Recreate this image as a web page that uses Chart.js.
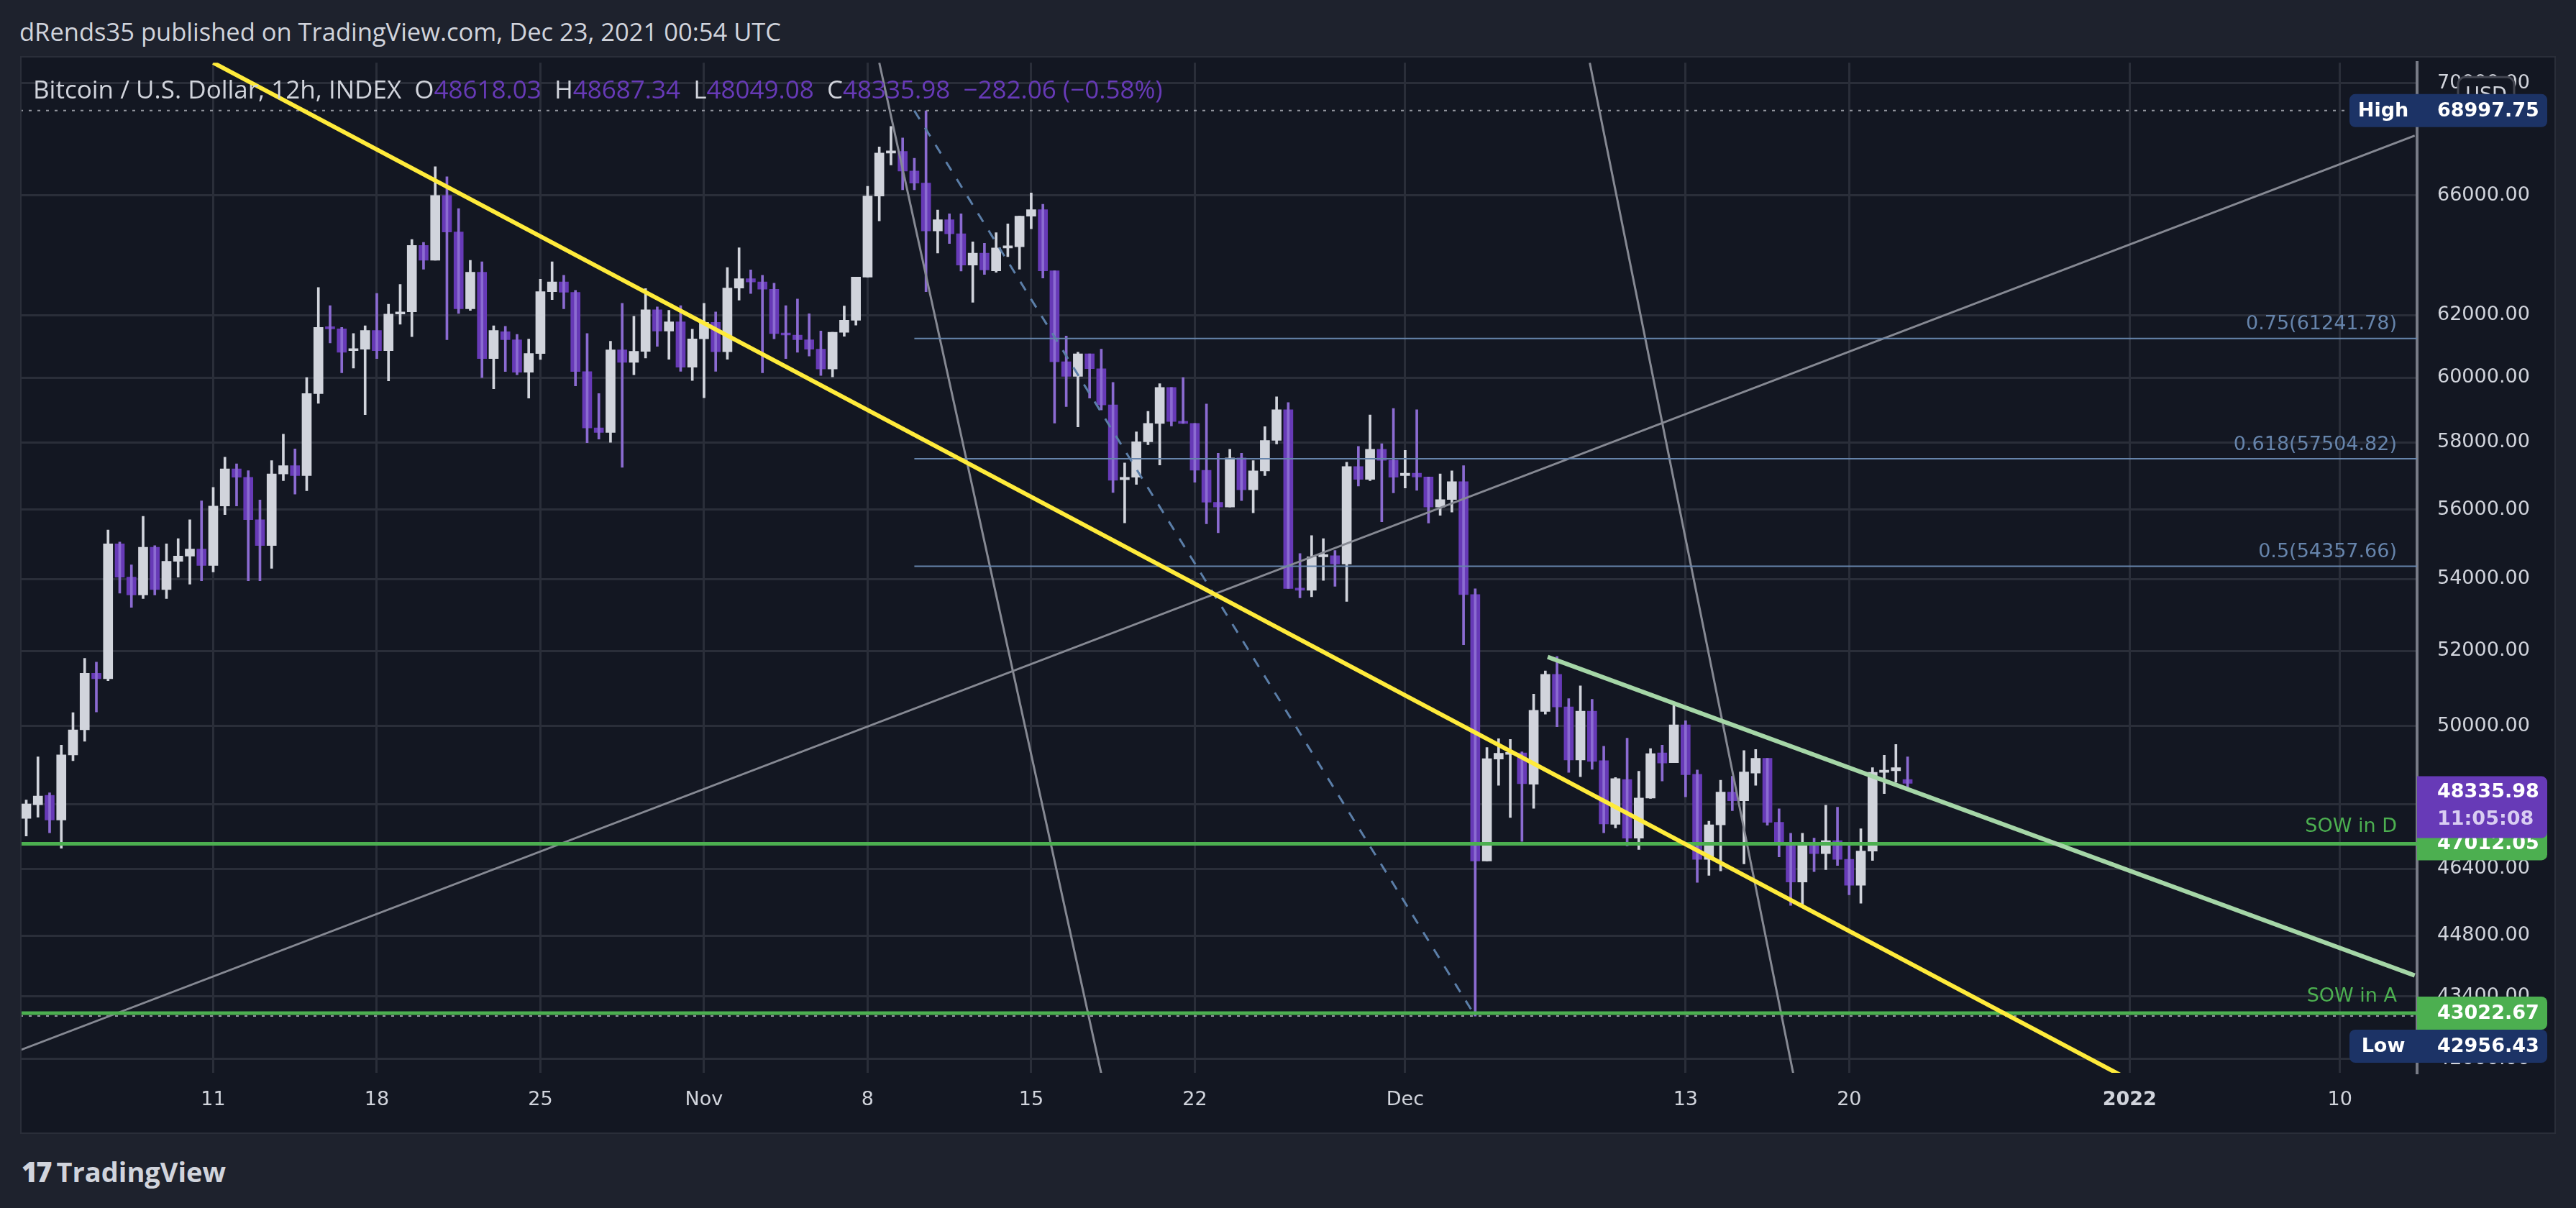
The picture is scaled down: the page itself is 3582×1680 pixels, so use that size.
<!DOCTYPE html>
<html>
<head>
<meta charset="utf-8">
<script src="https://cdn.jsdelivr.net/npm/chart.js@4"></script>
<style>
  html, body { margin: 0; padding: 0; background: #1e222d; width: 3582px; height: 1680px; overflow: hidden; }
  #panel { position: absolute; left: 28px; top: 78px; width: 3526px; height: 1499px; background: #131722; border: 2px solid #2a2e39; box-sizing: border-box; }
  #wrap { position: absolute; left: 30px; top: 43px; width: 3522px; height: 1532px; }
  #title { position: absolute; left: 27px; top: 20px; font: 34.5px 'Liberation Sans Narrow', 'Open Sans', sans-serif; color: #d1d4dc; }
  #legend { position: absolute; left: 46px; top: 100px; font: 35px 'Liberation Sans Narrow', 'Open Sans', sans-serif; color: #d1d4dc; white-space: pre; z-index: 2; }
  #legend span { color: #673ab7; }
  #footer { position: absolute; left: 30px; top: 1603px; font: bold 38px 'Open Sans', sans-serif; color: #d1d4dc; }
  #footer b { font-weight: 900; letter-spacing: -2px; margin-right: 8px; }
</style>
</head>
<body>
<div id="title">dRends35 published on TradingView.com, Dec 23, 2021 00:54 UTC</div>
<div id="panel"></div>
<div id="wrap"><canvas id="c" width="3522" height="1532"></canvas></div>
<div id="legend">Bitcoin / U.S. Dollar, 12h, INDEX  O<span>48618.03</span>  H<span>48687.34</span>  L<span>48049.08</span>  C<span>48335.98  −282.06 (−0.58%)</span></div>
<div id="footer"><b>17</b>TradingView</div>
<script>
// 12h candles starting Oct 3 2021 00:00 UTC
const opens = [47640,47980,48220,47600,49250,49900,51400,51250,55000,54050,53550,54900,53700,54500,54650,54850,54380,56100,57200,56950,55700,54950,57050,57300,57000,59500,61600,61550,60850,60900,61500,60850,62030,62100,64300,63800,66000,64750,62200,63400,60600,61460,61200,60170,60760,62760,63080,62740,60190,58440,58300,60880,60480,60830,62170,61480,61780,60330,61230,61760,60820,62880,63190,63080,62840,61400,61350,61200,60900,60270,61440,61830,63240,65980,67480,67540,66850,66430,64790,65170,64690,63640,64040,63450,64210,64250,65290,65510,63450,60500,60040,60750,60280,59150,56880,56950,58020,58580,59690,58640,58580,57160,56210,56070,57530,56580,57140,58060,59000,53730,53680,54630,54660,54420,57270,56890,57790,57460,57000,57070,56960,56070,56290,56820,53560,46590,49140,49260,49300,48500,50380,51370,50500,49120,50390,49100,47490,48620,47150,48150,49300,49050,50030,48750,46630,47480,48300,48080,48780,49160,47540,47010,46080,47010,46770,47090,46630,46000,46830,48800,48840,48618.03];
const highs = [48100,49200,48280,49500,50350,51800,51700,55400,55050,54400,55800,54950,55000,55150,55700,56250,56650,57550,57350,57150,56280,57450,58250,57800,60000,62900,62300,61600,61400,61650,62700,62350,63000,64500,64400,67000,66650,65550,63800,63750,61650,61630,61370,61220,63170,63750,63300,62800,61400,59500,61150,62380,61960,62860,62260,62150,62300,61540,62380,62100,63560,64220,63480,63300,63040,62300,62520,62040,61480,61440,62290,63240,66320,67700,68430,68020,67300,68990,65500,65370,65370,64420,64370,64730,65030,65290,66090,65700,63450,61320,60800,60750,60900,59850,57380,58320,58950,59810,59690,60000,58580,59180,57670,57790,57670,57450,58480,59400,59220,54720,55240,55150,54810,57400,57880,58840,57960,59040,57760,59000,56960,57050,57140,57300,53720,49440,49670,49650,49330,50840,51460,51850,50720,51060,50700,49470,48670,49680,48830,49410,49500,50610,50140,48860,47570,48600,48700,49360,49390,49160,47880,47270,47270,47150,47970,47920,46980,47380,48920,49240,49520,49200,48687.34];
const lows = [47200,47670,47280,46900,49100,49600,50370,51200,53600,53200,53450,53550,53450,54050,53850,53950,54200,55850,56100,53950,53950,54300,56850,56450,56550,59200,61100,60150,60300,58850,60600,59900,61700,61300,63500,63800,61200,62050,62150,60000,59650,60190,60090,59360,60570,62500,62200,59740,57990,58100,58000,57250,60090,60620,60990,60580,60200,59910,59370,60200,60580,62480,62700,60150,61230,60600,60800,60680,60070,60020,61310,61670,63240,65130,67060,66200,66200,62760,64040,64360,63440,62410,63330,63400,63920,63500,64860,63210,58590,59100,58470,59360,58990,56500,55610,56740,57930,57320,58500,58580,56800,55580,55320,56070,56260,55900,57000,57950,53730,53470,53500,53960,53790,53370,56690,56850,55640,56490,56630,56560,55600,55830,55920,52170,42956.43,46590,48470,47660,47070,47890,50310,49980,48800,48690,48880,47280,47400,46960,46870,48140,48580,49050,48180,46070,46240,46350,47830,46520,48470,47470,46690,45520,45490,46330,46380,46480,45770,45570,46600,48260,48550,48390,48049.08];
const closes = [48000,48200,47600,49250,49900,51400,51250,55000,54050,53550,54900,53700,54500,54650,54850,54380,56100,57200,56950,55700,54950,57050,57300,57000,59500,61600,61550,60800,60900,61500,60850,62030,62100,64300,63800,66000,64750,62200,63400,60600,61500,61200,60170,60760,62760,63080,62740,60190,58440,58300,60880,60480,60830,62170,61480,61780,60330,61230,61760,60820,62880,63190,63080,62840,61400,61350,61200,60900,60270,61440,61830,63240,65980,67480,67540,66850,66430,64790,65170,64690,63640,64040,63480,64210,64250,65290,65510,63450,60500,60040,60750,60280,59150,56860,56950,58020,58580,59690,58640,58580,57160,56210,56070,57530,56580,57140,58060,59000,53730,53680,54630,54660,54420,57270,56890,57790,57460,56950,57070,56960,56070,56290,56820,53560,46590,49150,49290,49300,48510,50410,51370,50500,49120,50390,49080,47500,48640,47150,48150,49280,49040,50030,48740,46630,47480,48300,48080,48810,49160,47540,47010,46080,47010,46770,47090,46630,46000,46830,48800,48840,48920,48520,48335.98];

// x axis: days since Oct 3 2021
const xTickDays = [8, 15, 22, 29, 36, 43, 50, 59, 71, 78, 90, 99];
const xTickLabels = ['11', '18', '25', 'Nov', '8', '15', '22', 'Dec', '13', '20', '2022', '10'];
const yTicks = [70000, 66000, 62000, 60000, 58000, 56000, 54000, 52000, 50000, 48000, 46400, 44800, 43400, 42000];

// drawings: [x1, y1, x2, y2] in days / price
const trendYellow = [8.0, 70750, 91.1, 41250];
const trendGreen = [65.1, 51840, 102.2, 43880];
const rayGray = [-0.4, 42170, 102.2, 68100];
const steepGray1 = [36.5, 70750, 46.1, 41450];
const steepGray2 = [66.9, 70750, 75.7, 41450];
const dashedBlue = [38.0, 68997.75, 62.0, 42956.43];
const fibLevels = [['0.75', 61241.78], ['0.618', 57504.82], ['0.5', 54357.66]];
const fibStartDay = 38.0;
const sowLevels = [['SOW in D', 47012.05], ['SOW in A', 43022.67]];
const highValue = 68997.75, lowValue = 42956.43, lastClose = 48335.98, countdown = '11:05:08';

const UP = '#d1d4dc', DOWN = '#673ab7', DOWN_WICK = '#8b6bd1';
const times = opens.map((_, i) => i * 0.5);
const isUp = opens.map((o, i) => closes[i] >= o);

const AXF = "27px 'DejaVu Sans', sans-serif";

function box(ctx, x, y, w, h, fill, r) {
  ctx.fillStyle = fill;
  ctx.beginPath();
  ctx.roundRect(x, y, w, h, r);
  ctx.fill();
}

const overlay = {
  id: 'overlay',
  afterDatasetsDraw(chart) {
    const { ctx, chartArea: a, scales: { x, y } } = chart;
    const px = d => x.getPixelForValue(d), py = v => y.getPixelForValue(v);
    ctx.save();
    ctx.beginPath(); ctx.rect(a.left, a.top, a.right - a.left, a.bottom - a.top); ctx.clip();
    const seg = (s, color, w, dash) => {
      ctx.strokeStyle = color; ctx.lineWidth = w; ctx.setLineDash(dash || []);
      ctx.beginPath(); ctx.moveTo(px(s[0]), py(s[1])); ctx.lineTo(px(s[2]), py(s[3])); ctx.stroke();
    };
    seg([-1, highValue, 200, highValue], '#9598a1', 2, [4, 8]);
    seg([-1, lowValue, 200, lowValue], '#9598a1', 2, [4, 8]);
    seg(rayGray, '#868993', 3);
    seg(steepGray1, '#868993', 3);
    seg(steepGray2, '#868993', 3);
    seg(dashedBlue, '#5b7ea8', 3, [14, 14]);
    ctx.setLineDash([]);
    ctx.font = AXF; ctx.textAlign = 'right'; ctx.textBaseline = 'bottom';
    fibLevels.forEach(([k, v]) => {
      seg([fibStartDay, v, 200, v], '#6684ab', 2);
      ctx.fillStyle = '#6684ab';
      ctx.fillText(k + '(' + v.toFixed(2) + ')', a.right - 28, py(v) - 6);
    });
    sowLevels.forEach(([k, v]) => {
      seg([-1, v, 200, v], '#4caf50', 5);
      ctx.fillStyle = '#4caf50';
      ctx.fillText(k, a.right - 28, py(v) - 10);
    });
    seg(trendGreen, '#a5d6a7', 6);
    seg(trendYellow, '#ffeb3b', 6);
    ctx.restore();
  },
  afterDraw(chart) {
    const { ctx, chartArea: a, scales: { y } } = chart;
    const py = v => y.getPixelForValue(v);
    const L = a.right, W = 181;
    ctx.save();
    ctx.textBaseline = 'middle';
    ctx.fillStyle = '#131722'; ctx.strokeStyle = '#434651'; ctx.lineWidth = 3;
    ctx.beginPath(); ctx.roundRect(L + 57, a.top + 20, 78, 50, 10); ctx.fill(); ctx.stroke();
    ctx.fillStyle = '#d1d4dc'; ctx.textAlign = 'center';
    ctx.font = "27px 'DejaVu Sans', sans-serif";
    ctx.fillText('USD', L + 96, a.top + 46);
    ctx.font = "bold 27px 'DejaVu Sans', sans-serif";
    const tag = (yy, fill, text) => {
      box(ctx, L, yy - 23, W, 46, fill, [0, 8, 8, 0]);
      ctx.fillStyle = '#ffffff'; ctx.textAlign = 'left';
      ctx.fillText(text, L + 28, yy + 1);
    };
    const side = (yy, text) => {
      box(ctx, L - 94, yy - 23, 94, 46, '#1c3366', [8, 0, 0, 8]);
      ctx.fillStyle = '#ffffff'; ctx.textAlign = 'center';
      ctx.fillText(text, L - 47, yy + 1);
    };
    const yh = py(highValue);
    tag(yh, '#1c3366', highValue.toFixed(2)); side(yh, 'High');
    sowLevels.forEach(([k, v]) => tag(py(v), '#4caf50', v.toFixed(2)));
    // low tag pushed below the SOW in A tag so they do not overlap
    const yl = py(sowLevels[1][1]) + 46;
    tag(yl, '#1c3366', lowValue.toFixed(2)); side(yl, 'Low');
    const yc = py(lastClose);
    box(ctx, L, yc - 20, W, 86, '#673ab7', [0, 8, 8, 0]);
    ctx.fillStyle = '#ffffff'; ctx.textAlign = 'left';
    ctx.fillText(lastClose.toFixed(2), L + 28, yc + 2);
    ctx.fillStyle = '#d9cdf2';
    ctx.fillText(countdown, L + 28, yc + 40);
    ctx.restore();
  }
};

new Chart(document.getElementById('c'), {
  type: 'bar',
  data: {
    datasets: [{
      label: 'wick',
      data: times.map((t, i) => ({ x: t, y: [lows[i], highs[i]] })),
      backgroundColor: isUp.map(u => u ? UP : DOWN_WICK),
      barThickness: 3,
      grouped: false
    }, {
      label: 'body',
      data: times.map((t, i) => ({ x: t, y: [opens[i], closes[i]] })),
      backgroundColor: isUp.map(u => u ? UP : DOWN),
      barThickness: 13,
      minBarLength: 3,
      grouped: false
    }]
  },
  options: {
    responsive: false,
    animation: false,
    devicePixelRatio: 1,
    layout: { padding: 0 },
    plugins: { legend: { display: false }, tooltip: { enabled: false } },
    scales: {
      x: {
        type: 'linear', min: -0.2, max: 102.3, offset: false,
        afterBuildTicks: s => { s.ticks = xTickDays.map(v => ({ value: v })); },
        afterFit: s => { s.height = 83; },
        grid: { color: '#2a2e39', lineWidth: 3, drawTicks: false, offset: false },
        border: { display: false },
        ticks: {
          padding: 22, color: '#d1d4dc', maxRotation: 0, autoSkip: false,
          font: ctx => ({ family: 'DejaVu Sans', size: 27, weight: xTickLabels[ctx.index] === '2022' ? 'bold' : 'normal' }),
          callback: (v, i) => xTickLabels[i]
        }
      },
      y: {
        type: 'logarithmic', position: 'right', min: 41700, max: 70750,
        afterBuildTicks: s => { s.ticks = yTicks.map(v => ({ value: v })); },
        afterFit: s => { s.width = 191; },
        grid: { color: '#2a2e39', lineWidth: 3, drawTicks: false },
        border: { display: true, color: '#787b86', width: 4 },
        ticks: {
          padding: 28, color: '#d1d4dc', autoSkip: false,
          font: { family: 'DejaVu Sans', size: 27 },
          callback: v => Number(v).toFixed(2)
        }
      }
    }
  },
  plugins: [overlay]
});
</script>
</body>
</html>
